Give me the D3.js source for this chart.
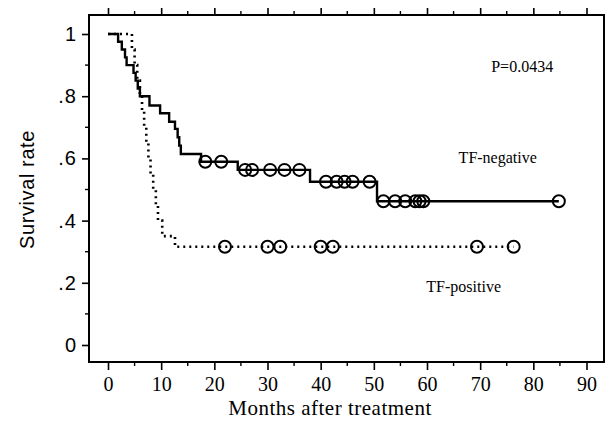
<!DOCTYPE html>
<html>
<head>
<meta charset="utf-8">
<script src="https://cdn.jsdelivr.net/npm/d3@7/dist/d3.min.js"></script>
<style>
  html, body { margin: 0; padding: 0; background: #fff; }
  svg { display: block; }
</style>
</head>
<body>
<svg id="chart" width="607" height="432"></svg>
<script>
// ---- Data ----
const xTicks = [0, 10, 20, 30, 40, 50, 60, 70, 80, 90];
const yTicks = [0, 0.2, 0.4, 0.6, 0.8, 1];
const yTickLabels = ["0", ".2", ".4", ".6", ".8", "1"];

// TF-negative (solid): event times and survival after each event
const negEventTimes = [1.9, 2.6, 3.2, 3.5, 4.8, 5.2, 5.6, 6.0, 7.8, 9.8, 11.5, 12.6, 13.1, 13.4, 13.7, 17.5, 24.4, 38.0, 50.6];
const negEventSurv  = [0.975, 0.95, 0.925, 0.90, 0.875, 0.85, 0.825, 0.80, 0.77, 0.745, 0.718, 0.695, 0.668, 0.641, 0.614, 0.589, 0.563, 0.525, 0.462];
const negCensorTimes = [18.3, 21.3, 25.8, 27.1, 30.5, 33.2, 36.0, 41.0, 43.0, 44.5, 46.0, 49.2, 51.8, 54.0, 55.9, 57.8, 58.6, 59.3, 84.8];

// TF-positive (dotted)
const posEventTimes = [4.5, 5.0, 5.5, 6.0, 6.4, 6.8, 7.2, 7.6, 8.0, 8.5, 9.0, 9.4, 10.2, 12.6];
const posEventSurv  = [0.95, 0.90, 0.85, 0.80, 0.75, 0.70, 0.65, 0.60, 0.55, 0.50, 0.45, 0.40, 0.35, 0.316];
const posCensorTimes = [22.0, 30.0, 32.4, 40.0, 42.3, 69.4, 76.3];

const annotations = [
  { text: "P=0.0434", t: 77.9, s: 0.878 },
  { text: "TF-negative", t: 73.3, s: 0.585 },
  { text: "TF-positive", t: 66.9, s: 0.17 }
];

// ---- Layout ----
const svg = d3.select("#chart");
const frame = { left: 89, top: 15, right: 604, bottom: 362 };

const x = d3.scaleLinear().domain([0, 90]).range([108, 586.5]);
const y = d3.scaleLinear().domain([0, 1]).range([345, 34]);

// Step-function helpers
function survAt(times, surv, t) {
  let s = 1;
  for (let i = 0; i < times.length; i++) if (times[i] <= t) s = surv[i];
  return s;
}
function stepPoints(times, surv, tEnd) {
  const pts = [[0, 1]];
  times.forEach((t, i) => pts.push([t, surv[i]]));
  pts.push([tEnd, surv[surv.length - 1]]);
  return pts;
}

const line = d3.line().x(d => x(d[0])).y(d => y(d[1])).curve(d3.curveStepAfter);

// Frame
svg.append("rect")
  .attr("x", frame.left).attr("y", frame.top)
  .attr("width", frame.right - frame.left).attr("height", frame.bottom - frame.top)
  .attr("fill", "none").attr("stroke", "#000").attr("stroke-width", 2);

// Bottom axis
const xMinor = d3.range(5, 90, 10);
const gBottom = svg.append("g").attr("transform", `translate(0,${frame.bottom})`);
gBottom.call(d3.axisBottom(x).tickValues(xTicks).tickSize(8).tickFormat(d3.format("d")))
  .call(g => g.select(".domain").remove())
  .call(g => g.selectAll("line").attr("stroke-width", 1.6))
  .call(g => g.selectAll("text")
    .attr("font-family", "'Liberation Serif', serif")
    .attr("font-size", 20).attr("fill", "#000").attr("dy", "0.9em"));
gBottom.selectAll(".minor").data(xMinor).join("line")
  .attr("x1", d => x(d)).attr("x2", d => x(d)).attr("y1", 0).attr("y2", 4)
  .attr("stroke", "#000").attr("stroke-width", 1.4);

// Top axis (mirrored ticks, no labels)
const gTop = svg.append("g").attr("transform", `translate(0,${frame.top})`);
gTop.call(d3.axisTop(x).tickValues(xTicks).tickSize(7).tickFormat(""))
  .call(g => g.select(".domain").remove())
  .call(g => g.selectAll("line").attr("stroke-width", 1.6));
gTop.selectAll(".minor").data(xMinor).join("line")
  .attr("x1", d => x(d)).attr("x2", d => x(d)).attr("y1", 0).attr("y2", -4)
  .attr("stroke", "#000").attr("stroke-width", 1.4);

// Left axis
const yMinor = [0.1, 0.3, 0.5, 0.7, 0.9];
const gLeft = svg.append("g").attr("transform", `translate(${frame.left},0)`);
gLeft.call(d3.axisLeft(y).tickValues(yTicks).tickSize(7)
    .tickFormat((d, i) => yTickLabels[i]))
  .call(g => g.select(".domain").remove())
  .call(g => g.selectAll("line").attr("stroke-width", 1.6))
  .call(g => g.selectAll("text")
    .attr("font-family", "'Liberation Sans', Arial, sans-serif")
    .attr("font-size", 20).attr("fill", "#000").attr("x", -12)
    .attr("letter-spacing", "1"));
gLeft.selectAll(".minor").data(yMinor).join("line")
  .attr("x1", 0).attr("x2", -4).attr("y1", d => y(d)).attr("y2", d => y(d))
  .attr("stroke", "#000").attr("stroke-width", 1.4);

// Curves
svg.append("path")
  .attr("d", line(stepPoints(posEventTimes, posEventSurv, d3.max(posCensorTimes))))
  .attr("fill", "none").attr("stroke", "#000").attr("stroke-width", 2.6)
  .attr("stroke-dasharray", "2,4");

svg.append("path")
  .attr("d", line(stepPoints(negEventTimes, negEventSurv, d3.max(negCensorTimes))))
  .attr("fill", "none").attr("stroke", "#000").attr("stroke-width", 2.4);

// Censor marks
svg.append("g").selectAll("circle").data(negCensorTimes).join("circle")
  .attr("cx", d => x(d)).attr("cy", d => y(survAt(negEventTimes, negEventSurv, d)))
  .attr("r", 6).attr("fill", "none").attr("stroke", "#000").attr("stroke-width", 2);
svg.append("g").selectAll("circle").data(posCensorTimes).join("circle")
  .attr("cx", d => x(d)).attr("cy", d => y(survAt(posEventTimes, posEventSurv, d)))
  .attr("r", 6).attr("fill", "none").attr("stroke", "#000").attr("stroke-width", 2);

// Annotations
svg.append("g").selectAll("text").data(annotations).join("text")
  .attr("x", d => x(d.t)).attr("y", d => y(d.s))
  .attr("text-anchor", "middle")
  .attr("font-family", "'Liberation Serif', 'Times New Roman', serif")
  .attr("font-size", 16).attr("fill", "#000")
  .text(d => d.text);

// Axis titles
svg.append("text")
  .attr("x", 330).attr("y", 415)
  .attr("text-anchor", "middle")
  .attr("font-family", "'Liberation Serif', serif")
  .attr("font-size", 21).attr("fill", "#000")
  .attr("letter-spacing", "0.5")
  .text("Months after treatment");

svg.append("text")
  .attr("transform", `translate(34,${(y(0) + y(1)) / 2}) rotate(-90)`)
  .attr("text-anchor", "middle")
  .attr("font-family", "'Liberation Sans', Arial, sans-serif")
  .attr("font-size", 20).attr("fill", "#000")
  .attr("letter-spacing", "0.6")
  .text("Survival  rate");
</script>
</body>
</html>
